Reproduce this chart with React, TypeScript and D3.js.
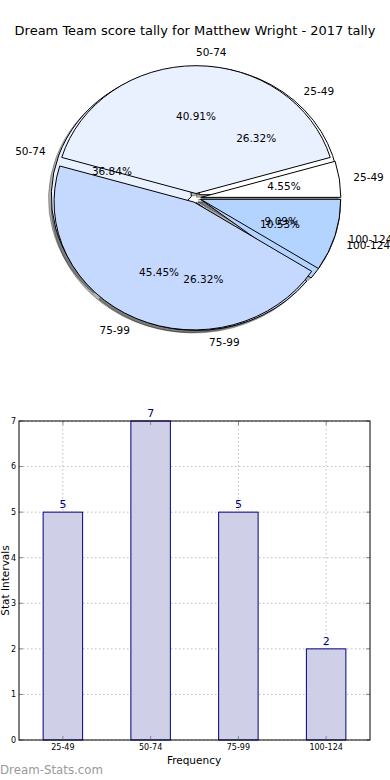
import React from "react";
import * as d3 from "d3";

const title = "Dream Team score tally for Matthew Wright - 2017 tally";
const categories = ["25-49", "50-74", "75-99", "100-124"];
const tallyA = [1, 9, 10, 2]; // drawn on top
const tallyB = [5, 7, 5, 2]; // drawn underneath, same as bars
const barValues = [5, 7, 5, 2];
const yTicks = [0, 1, 2, 3, 4, 5, 6, 7];
const pieColors = ["#ffffff", "#eaf1fe", "#c5d9fe", "#b3d4ff"];

const W = 390;
const H = 780;

const cx = 196;
const cy = 198;
const rx = 140;
const ry = 128;
const explode = 0.035;

const pieLayout = d3
  .pie<number>()
  .sort(null)
  .startAngle(Math.PI / 2)
  .endAngle(Math.PI / 2 - 2 * Math.PI);

const arcGen = d3.arc<d3.PieArcDatum<number>>().innerRadius(0).outerRadius(1);

const PieLayer = ({ values, part }: { values: number[]; part: string }) => {
  const arcs = pieLayout(values);
  return (
    <g>
      {arcs.map((a, i) => {
        const mid = (a.startAngle + a.endAngle) / 2;
        const ox = explode * Math.sin(mid);
        const oy = -explode * Math.cos(mid);
        if (part === "shadow") {
          return (
            <g key={i} transform={`translate(${cx},${cy}) scale(${rx},${ry})`}>
              <path
                d={arcGen(a) || ""}
                transform={`translate(${ox - 0.02},${oy + 0.02})`}
                fill="#000"
                fillOpacity={0.3}
                stroke="#000"
                strokeOpacity={0.3}
                strokeWidth={1}
                vectorEffect="non-scaling-stroke"
              />
            </g>
          );
        }
        if (part === "wedge") {
          return (
            <g key={i} transform={`translate(${cx},${cy}) scale(${rx},${ry})`}>
              <path
                d={arcGen(a) || ""}
                transform={`translate(${ox},${oy})`}
                fill={pieColors[i]}
                stroke="#000"
                strokeWidth={1}
                vectorEffect="non-scaling-stroke"
              />
            </g>
          );
        }
        // labels
        const total = d3.sum(values);
        const lx = cx + (ox + 1.1 * Math.sin(mid)) * rx;
        const ly = cy + (oy - 1.1 * Math.cos(mid)) * ry;
        const px = cx + (ox + 0.6 * Math.sin(mid)) * rx;
        const py = cy + (oy - 0.6 * Math.cos(mid)) * ry;
        return (
          <g key={i} fontSize={10.5} fill="#000">
            <text
              x={lx}
              y={ly}
              dy="0.35em"
              textAnchor={Math.sin(mid) > -1e-6 ? "start" : "end"}
            >
              {categories[i]}
            </text>
            <text x={px} y={py} dy="0.35em" textAnchor="middle">
              {((values[i] / total) * 100).toFixed(2)}%
            </text>
          </g>
        );
      })}
    </g>
  );
};

// bar chart frame
const bx0 = 19;
const bx1 = 370;
const by0 = 421;
const by1 = 740;

const xScale = d3.scaleBand<string>().domain(categories).range([bx0, bx1]).padding(0);
const yScale = d3.scaleLinear().domain([0, 7]).range([by1, by0]);
const barW = xScale.bandwidth() * 0.45;

const App = () => {
  return (
    <svg
      width={W}
      height={H}
      style={{ position: "absolute", left: 0, top: 0, background: "#fff" }}
      fontFamily="DejaVu Sans, sans-serif"
    >
      <text x={195} y={30} dy="0.35em" textAnchor="middle" fontSize={13}>
        {title}
      </text>

      {/* pie: shadows first, then the two layers of wedges, then texts */}
      <PieLayer values={tallyB} part="shadow" />
      <PieLayer values={tallyA} part="shadow" />
      <PieLayer values={tallyB} part="wedge" />
      <PieLayer values={tallyA} part="wedge" />
      <PieLayer values={tallyA} part="label" />
      <PieLayer values={tallyB} part="label" />

      {/* bar chart */}
      <g>
        {yTicks.map((t) => (
          <line
            key={"gy" + t}
            x1={bx0}
            x2={bx1}
            y1={yScale(t)}
            y2={yScale(t)}
            stroke="#bdbdbd"
            strokeDasharray="1.5,2.5"
          />
        ))}
        {categories.map((c) => {
          const x = (xScale(c) || 0) + xScale.bandwidth() / 2;
          return (
            <line
              key={"gx" + c}
              x1={x}
              x2={x}
              y1={by0}
              y2={by1}
              stroke="#bdbdbd"
              strokeDasharray="1.5,2.5"
            />
          );
        })}
        {barValues.map((v, i) => {
          const x = (xScale(categories[i]) || 0) + xScale.bandwidth() / 2;
          return (
            <g key={"bar" + i}>
              <rect
                x={x - barW / 2}
                y={yScale(v)}
                width={barW}
                height={yScale(0) - yScale(v)}
                fill="#ccccE6"
                fillOpacity={0.95}
                stroke="#00007f"
                strokeWidth={1}
              />
              <text
                x={x}
                y={yScale(v) - 4}
                textAnchor="middle"
                fontSize={11}
                fill="#00007f"
              >
                {v}
              </text>
            </g>
          );
        })}
        {/* ticks on all sides */}
        {yTicks.map((t) => (
          <g key={"ty" + t}>
            <line x1={bx0} x2={bx0 + 4} y1={yScale(t)} y2={yScale(t)} stroke="#888" />
            <line x1={bx1} x2={bx1 - 4} y1={yScale(t)} y2={yScale(t)} stroke="#888" />
            <text x={bx0 - 3} y={yScale(t)} dy="0.35em" textAnchor="end" fontSize={8}>
              {t}
            </text>
          </g>
        ))}
        {categories.map((c) => {
          const x = (xScale(c) || 0) + xScale.bandwidth() / 2;
          return (
            <g key={"tx" + c}>
              <line x1={x} x2={x} y1={by1} y2={by1 - 4} stroke="#888" />
              <line x1={x} x2={x} y1={by0} y2={by0 + 4} stroke="#888" />
              <text x={x} y={by1 + 10} textAnchor="middle" fontSize={8}>
                {c}
              </text>
            </g>
          );
        })}
        <rect
          x={bx0}
          y={by0}
          width={bx1 - bx0}
          height={by1 - by0}
          fill="none"
          stroke="#000"
          strokeWidth={1}
        />
        <text x={194} y={764} textAnchor="middle" fontSize={10.5}>
          Frequency
        </text>
        <text
          transform={`translate(9,${(by0 + by1) / 2}) rotate(-90)`}
          textAnchor="middle"
          fontSize={10.5}
        >
          Stat Intervals
        </text>
      </g>

      <text x={0} y={774} fontSize={11.8} fill="#9a9a9a">
        Dream-Stats.com
      </text>
    </svg>
  );
};

export default App;
